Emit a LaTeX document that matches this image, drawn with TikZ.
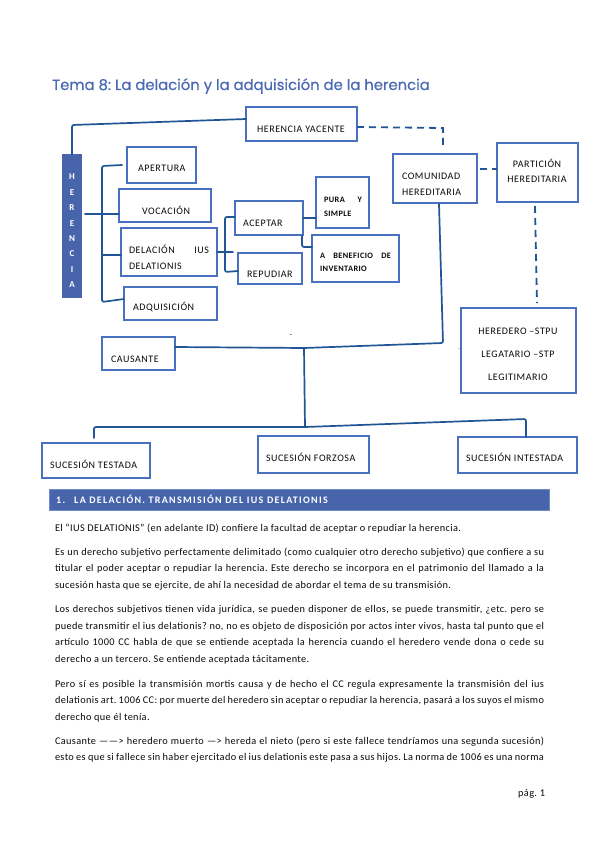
\documentclass[tikz,border=0pt]{standalone}
\usepackage{fontspec}
\setmainfont{Carlito}
\newfontfamily\titlefont{Poppins}[FakeBold=0.5]
\usetikzlibrary{calc}
\definecolor{boxcol}{RGB}{74,112,192}
\definecolor{linecol}{RGB}{32,86,150}
\definecolor{barcol}{RGB}{72,101,172}
\definecolor{barborder}{RGB}{110,138,200}
\definecolor{titlecol}{RGB}{74,106,180}
\definecolor{txtcol}{RGB}{10,10,10}
\frenchspacing
\begin{document}
\begin{tikzpicture}[x=1pt,y=-1pt,
  box/.style={draw=boxcol, line width=1.3pt, inner sep=0pt, outer sep=0pt, anchor=north west, rectangle},
  lbl/.style={inner sep=0pt, outer sep=0pt, anchor=base west, text=txtcol, font=\fontsize{10}{11}\selectfont\addfontfeatures{LetterSpace=5.5}},
  lblc/.style={lbl, anchor=base},
  small/.style={inner sep=0pt, outer sep=0pt, anchor=base west, text=txtcol, font=\bfseries\fontsize{8.3}{9}\selectfont\addfontfeatures{LetterSpace=5}},
  vlet/.style={inner sep=0pt, outer sep=0pt, anchor=base, text=white, font=\bfseries\fontsize{9}{10}\selectfont},
  conn/.style={draw=linecol, line width=1.7pt, line cap=round, line join=round, rounded corners=2pt},
  dconn/.style={draw=linecol, line width=1.8pt, dash pattern=on 7pt off 5pt},
  body/.style={inner sep=0pt, outer sep=0pt, anchor=base west, text=txtcol, font=\fontsize{10.3}{12}\selectfont\addfontfeatures{LetterSpace=3.5}}
]
\useasboundingbox (0,0) rectangle (599,848);
\fill[white] (0,0) rectangle (599,848);

% title
\node[anchor=base west, inner sep=0pt, text=titlecol, font=\titlefont\fontsize{14.8}{16}\selectfont] (title) at (52,90) {Tema 8: La delación y la adquisición de la herencia};

% boxes
\node[box, minimum width=111pt, minimum height=34pt] (yacente) at (246,107) {};
\node[box, minimum width=69pt, minimum height=36pt] (apertura) at (127,147) {};
\node[box, minimum width=92pt, minimum height=33pt] (vocacion) at (119,189) {};
\node[box, minimum width=96pt, minimum height=48pt] (delacion) at (121,228) {};
\node[box, minimum width=93pt, minimum height=33pt] (adquisicion) at (124,287) {};
\node[box, minimum width=68pt, minimum height=34pt] (aceptar) at (235,201) {};
\node[box, minimum width=64pt, minimum height=31pt] (repudiar) at (238,253) {};
\node[box, minimum width=53pt, minimum height=51pt] (pura) at (316,177) {};
\node[box, minimum width=87pt, minimum height=47pt] (beneficio) at (312,235) {};
\node[box, minimum width=84pt, minimum height=49pt] (comunidad) at (393,154) {};
\node[box, minimum width=81pt, minimum height=59pt] (particion) at (497,143) {};
\node[box, minimum width=115pt, minimum height=85pt] (heredero) at (461,308) {};
\node[box, minimum width=73pt, minimum height=33pt] (causante) at (102,337) {};
\node[box, minimum width=108pt, minimum height=35pt] (testada) at (42,443) {};
\node[box, minimum width=111pt, minimum height=37pt] (forzosa) at (258,436) {};
\node[box, minimum width=119pt, minimum height=36pt] (intestada) at (458,437) {};

% herencia bar
\node[fill=barcol, draw=none, inner sep=0pt, outer sep=0pt, minimum width=20pt, minimum height=144pt, anchor=north west] (herbar) at (62,154) {};
\node[vlet] (h1) at (72,179.5) {H};
\node[vlet] (h2) at (72,195.5) {E};
\node[vlet] (h3) at (72,210.5) {R};
\node[vlet] (h4) at (72,226.5) {E};
\node[vlet] (h5) at (72,241.5) {N};
\node[vlet] (h6) at (72,256.5) {C};
\node[vlet] (h7) at (72,272.5) {I};
\node[vlet] (h8) at (72,287.5) {A};

% labels
\node[lblc] (yacente-t) at (301,132) {HERENCIA YACENTE};
\node[lbl] (apertura-t) at (138,171) {APERTURA};
\node[lbl] (vocacion-t) at (142,214) {VOCACIÓN};
\node[lbl] (delacion-t1) at (129,253) {\makebox[80pt][l]{DELACIÓN\hfill IUS}};
\node[lbl] (delacion-t2) at (129,269) {DELATIONIS};
\node[lbl] (adquisicion-t) at (133,310) {ADQUISICIÓN};
\node[lbl] (aceptar-t) at (243,226) {ACEPTAR};
\node[lbl] (repudiar-t) at (247,277) {REPUDIAR};
\node[small] (pura-t1) at (324,202) {\makebox[38pt][l]{PURA\hfill Y}};
\node[small] (pura-t2) at (324,216) {SIMPLE};
\node[small] (beneficio-t1) at (320,258) {\makebox[71pt][s]{A BENEFICIO DE}};
\node[small] (beneficio-t2) at (320,271) {INVENTARIO};
\node[lbl] (comunidad-t1) at (402,179) {COMUNIDAD};
\node[lbl] (comunidad-t2) at (402,195) {HEREDITARIA};
\node[lblc] (particion-t1) at (537,167) {PARTICIÓN};
\node[lblc] (particion-t2) at (537,182) {HEREDITARIA};
\node[lblc] (heredero-t1) at (518,334) {HEREDERO –STPU};
\node[lblc] (heredero-t2) at (518,357) {LEGATARIO –STP};
\node[lblc] (heredero-t3) at (518,380) {LEGITIMARIO};
\node[lbl] (causante-t) at (111,362) {CAUSANTE};
\node[lbl] (testada-t) at (50,468) {SUCESIÓN TESTADA};
\node[lbl] (forzosa-t) at (266,461) {SUCESIÓN FORZOSA};
\node[lbl] (intestada-t) at (466,461) {SUCESIÓN INTESTADA};
\node[inner sep=0pt, anchor=base, font=\fontsize{9}{9}\selectfont] (dot1) at (291,335) {.};
\node[inner sep=0pt, anchor=base, font=\fontsize{6}{6}\selectfont] (dot2) at (459,349) {.};

% connector coordinates
\coordinate (yacW) at (246,119);
\coordinate (herR) at (85,214);
\coordinate (brTop) at (122,165);
\coordinate (adqW) at (124,299);
\coordinate (delE) at (217,252);
\coordinate (comS) at (439,204);
\coordinate (juncA) at (304,348);
\coordinate (juncB) at (305,427);
\coordinate (testN) at (94,438);
\coordinate (intN) at (526,437);

% solid connectors
\draw[conn] (herbar.north) -- (72,125) -- (yacW);
\draw[conn] (brTop) -- (102,166) -- (102,302) -- (adqW);
\draw[conn] (herR) -- (vocacion.west |- herR);
\draw[conn] (102,255) -- (delacion.west |- 0,255);
\draw[conn] (delE) -- (233,252);
\draw[conn] (aceptar.west |- 0,217) -- (225,217) -- (225,272) -- (repudiar.west |- 0,271);
\draw[conn] (aceptar.east |- 0,218) -- (pura.west |- 0,218);
\draw[conn] (302,236) -- (302,247) -- (beneficio.west |- 0,247);
\draw[conn] (comS) -- (443,343) -- (juncA) -- (causante.east |- 0,347);
\draw[conn] (juncA) -- (juncB);
\draw[conn] (testN) -- (94,427) -- (juncB) -- (526,419) -- (intN);

% dashed connectors
\draw[dconn] (yacente.east |- 0,127) -- (443,128) -- (443,147);
\draw[dconn] (480,169) -- (particion.west |- 0,169);
\draw[dconn] (535,206) -- (537,303);

% section bar
\node[fill=barcol, draw=barborder, line width=0.8pt, inner sep=0pt, outer sep=0pt, minimum width=500pt, minimum height=21pt, anchor=north west] (secbar) at (49,489) {};
\node[anchor=base west, inner sep=0pt, text=white, font=\bfseries\fontsize{10}{11}\selectfont\addfontfeatures{LetterSpace=13}] (sectxt) at (56,503) {1.\hspace{9pt}LA DELACIÓN. TRANSMISIÓN DEL IUS DELATIONIS};

% body text
\node[body] (l1) at (55,531) {El “IUS DELATIONIS” (en adelante ID) confiere la facultad de aceptar o repudiar la herencia.};
\node[body] (l2) at (55,555) {\makebox[489pt][s]{Es un derecho subjetivo perfectamente delimitado (como cualquier otro derecho subjetivo) que confiere a su}};
\node[body] (l3) at (55,571.5) {\makebox[489pt][s]{titular el poder aceptar o repudiar la herencia. Este derecho se incorpora en el patrimonio del llamado a la}};
\node[body] (l4) at (55,588) {sucesión hasta que se ejercite, de ahí la necesidad de abordar el tema de su transmisión.};
\node[body] (l5) at (55,612.5) {\makebox[489pt][s]{Los derechos subjetivos tienen vida jurídica, se pueden disponer de ellos, se puede transmitir, ¿etc. pero se}};
\node[body] (l6) at (55,629) {\makebox[489pt][s]{puede transmitir el ius delationis? no, no es objeto de disposición por actos inter vivos, hasta tal punto que el}};
\node[body] (l7) at (55,645.5) {\makebox[489pt][s]{artículo 1000 CC habla de que se entiende aceptada la herencia cuando el heredero vende dona o cede su}};
\node[body] (l8) at (55,662) {derecho a un tercero. Se entiende aceptada tácitamente.};
\node[body] (l9) at (55,687) {\makebox[489pt][s]{Pero sí es posible la transmisión mortis causa y de hecho el CC regula expresamente la transmisión del ius}};
\node[body] (l10) at (55,703.5) {\makebox[489pt][s]{delationis art. 1006 CC: por muerte del heredero sin aceptar o repudiar la herencia, pasará a los suyos el mismo}};
\node[body] (l11) at (55,720) {derecho que él tenía.};
\node[body] (l12) at (55,744) {\makebox[489pt][s]{Causante ——> heredero muerto —> hereda el nieto (pero si este fallece tendríamos una segunda sucesión)}};
\node[body] (l13) at (55,760.5) {\makebox[489pt][s]{esto es que si fallece sin haber ejercitado el ius delationis este pasa a sus hijos. La norma de 1006 es una norma}};
\node[body, anchor=base east] (page) at (545,796) {pág. 1};
\end{tikzpicture}
\end{document}
